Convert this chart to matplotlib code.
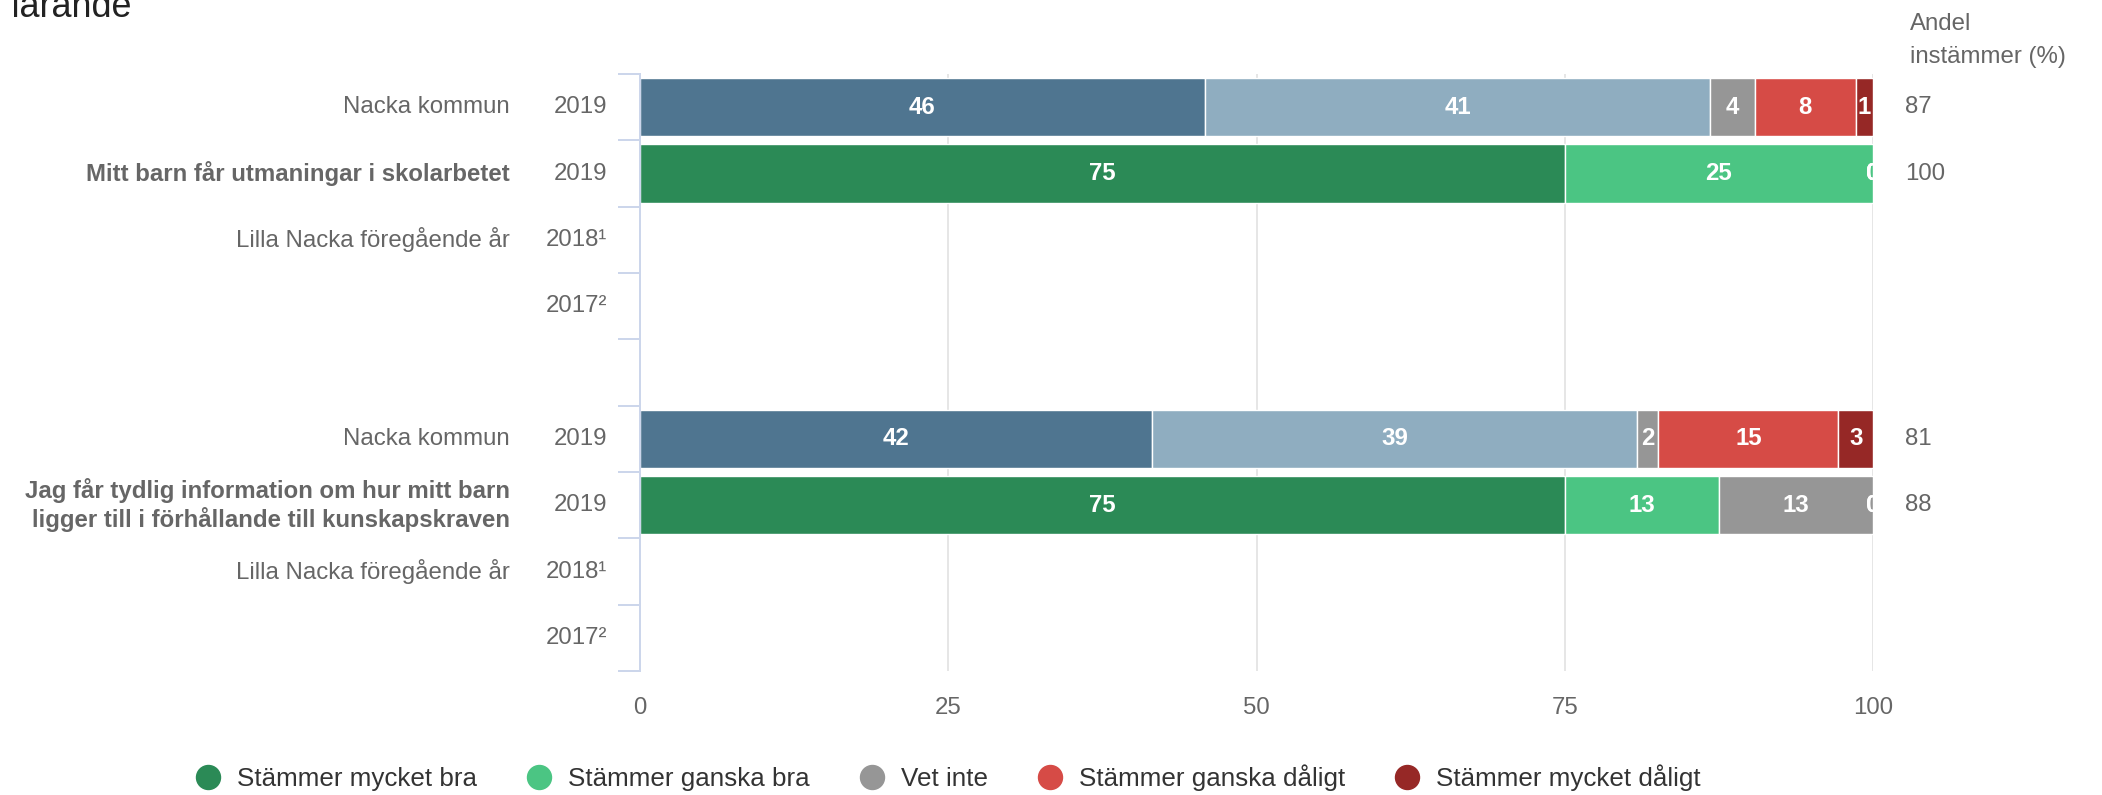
import math

import matplotlib
matplotlib.use('Agg')
import matplotlib.pyplot as plt
from matplotlib.lines import Line2D
from matplotlib.transforms import blended_transform_factory

plt.rcParams['font.family'] = ['Liberation Sans', 'DejaVu Sans']

# rows, top to bottom (row 4 is the empty spacer between the two questions)
row_names = ['Nacka kommun',
             'Mitt barn får utmaningar i skolarbetet',
             'Lilla Nacka föregående år',
             '',
             '',
             'Nacka kommun',
             'Jag får tydlig information om hur mitt barn\nligger till i förhållande till kunskapskraven',
             'Lilla Nacka föregående år',
             '']
row_years = ['2019', '2019', '2018¹', '2017²', '', '2019', '2019', '2018¹', '2017²']
row_bold = [False, True, False, False, False, False, True, False, False]
kommun_rows = [0, 5]

series_names = ['Stämmer mycket bra', 'Stämmer ganska bra', 'Vet inte',
                'Stämmer ganska dåligt', 'Stämmer mycket dåligt']

mycket_bra = [45.8, 75, None, None, None, 41.5, 75, None, None]
ganska_bra = [41.0, 25, None, None, None, 39.4, 12.5, None, None]
vet_inte = [3.6, 0, None, None, None, 1.7, 12.5, None, None]
ganska_daligt = [8.2, 0, None, None, None, 14.6, 0, None, None]
mycket_daligt = [1.4, 0, None, None, None, 2.8, 0, None, None]

x_ticks = [0, 25, 50, 75, 100]

school_colors = ['#2b8a56', '#4bc583', '#969696', '#d64b46', '#962826']
kommun_colors = ['#4f7590', '#8fadc0', '#969696', '#d64b46', '#962826']

W, H = 2102, 795
PX = 0.72  # points per pixel at dpi 100


def round_half_up(v):
    return int(math.floor(v + 0.5))


fig = plt.figure(figsize=(W / 100, H / 100), dpi=100)
ax = fig.add_axes([640 / W, 1 - 671 / H, (1873 - 640) / W, (671 - 74) / H])

series = [mycket_bra, ganska_bra, vet_inte, ganska_daligt, mycket_daligt]
for i in range(len(row_names)):
    if mycket_bra[i] is None:
        continue
    colors = kommun_colors if i in kommun_rows else school_colors
    left = 0
    for s, vals in enumerate(series):
        v = vals[i]
        if v > 0:
            ax.barh(i, v, left=left, height=0.875, color=colors[s],
                    edgecolor='white', linewidth=1.0, zorder=2)
        ax.text(left + v / 2, i, str(round_half_up(v)), ha='center', va='center',
                color='white', fontweight='bold', fontsize=24 * PX,
                clip_on=True, zorder=3)
        left += v

ax.set_xlim(0, 100)
ax.set_ylim(len(row_names) - 0.5, -0.5)
ax.set_xticks(x_ticks)
ax.set_xticklabels([str(t) for t in x_ticks])
ax.tick_params(axis='x', length=0, pad=18.5, labelsize=24 * PX, labelcolor='#666666')
ax.set_yticks([])
ax.set_yticks([k - 0.5 for k in range(len(row_names) + 1)], minor=True)
ax.tick_params(axis='y', which='minor', length=22 * PX, width=2 * PX, color='#ccd6eb')
ax.xaxis.grid(True, color='#e6e6e6', linewidth=2 * PX)
ax.set_axisbelow(True)
for side in ['top', 'right', 'bottom']:
    ax.spines[side].set_visible(False)
ax.spines['left'].set_color('#ccd6eb')
ax.spines['left'].set_linewidth(2 * PX)

# row labels in two columns + share column on the right
trans = blended_transform_factory(fig.transFigure, ax.transData)
for i in range(len(row_names)):
    ax.text(510 / W, i, row_names[i], transform=trans, ha='right', va='center',
            fontsize=24 * PX, color='#666666',
            fontweight='bold' if row_bold[i] else 'normal')
    ax.text(607 / W, i, row_years[i], transform=trans, ha='right', va='center',
            fontsize=24 * PX, color='#666666')
    if mycket_bra[i] is not None:
        andel = round_half_up(mycket_bra[i] + ganska_bra[i])
        ax.text(1905 / W, i, str(andel), transform=trans, ha='left', va='center',
                fontsize=24 * PX, color='#666666')

fig.text(1910 / W, 1 - 30 / H, 'Andel', ha='left', va='baseline',
         fontsize=24 * PX, color='#666666')
fig.text(1910 / W, 1 - 63 / H, 'instämmer (%)', ha='left', va='baseline',
         fontsize=24 * PX, color='#666666')

# title, cut off by the screenshot
fig.text(132 / W, 1 - 17 / H, 'Utveckling och lärande', ha='right', va='baseline',
         fontsize=36 * PX, color='#222222')

handles = [Line2D([], [], marker='o', linestyle='none', markersize=24 * PX,
                  markerfacecolor=c, markeredgecolor=c) for c in school_colors]
fig.legend(handles, series_names, loc='center', bbox_to_anchor=(951 / W, 1 - 778 / H),
           ncol=5, frameon=False, fontsize=26 * PX, handlelength=0.5,
           handletextpad=0.87, columnspacing=2.13, labelcolor='#333333')

fig.savefig('out.png', dpi=100)
